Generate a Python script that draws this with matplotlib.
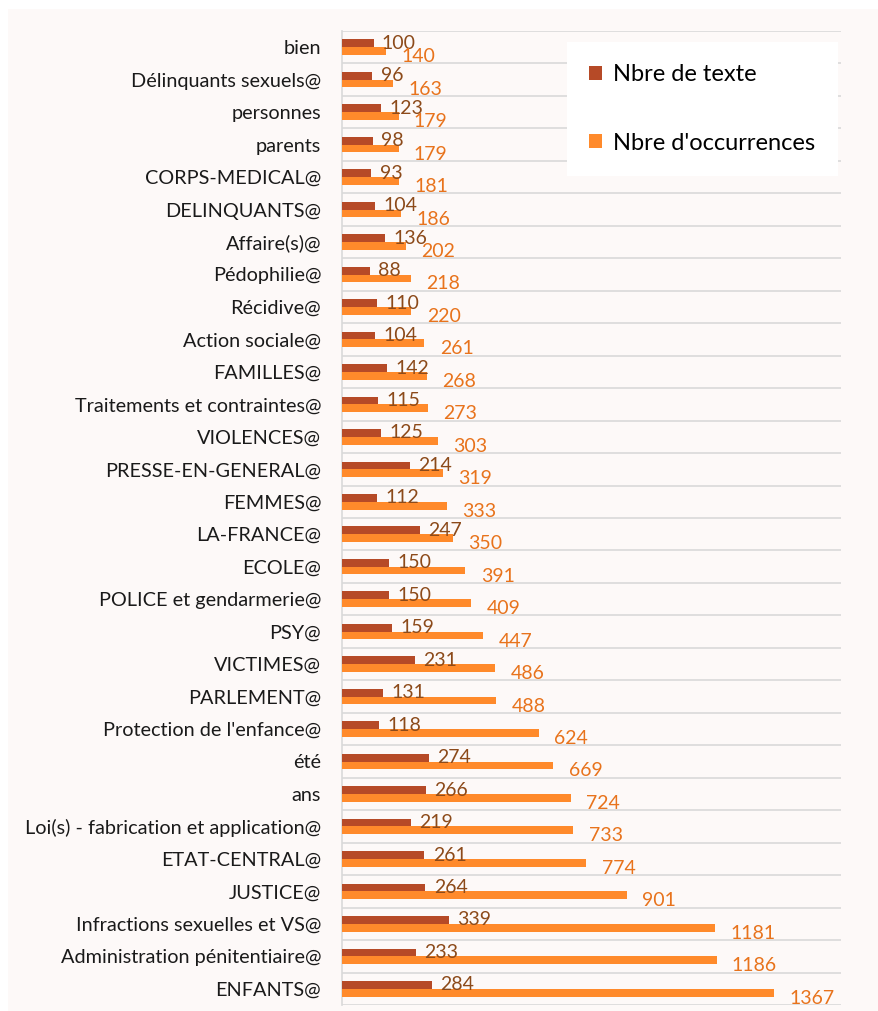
import matplotlib
matplotlib.use("Agg")
import matplotlib.pyplot as plt
import numpy as np
from matplotlib.patches import Rectangle

plt.rcParams['font.family'] = ['Lato', 'DejaVu Sans']

# top to bottom as in the picture
categories = ["bien", "Délinquants sexuels@", "personnes", "parents", "CORPS-MEDICAL@",
              "DELINQUANTS@", "Affaire(s)@", "Pédophilie@", "Récidive@", "Action sociale@",
              "FAMILLES@", "Traitements et contraintes@", "VIOLENCES@", "PRESSE-EN-GENERAL@",
              "FEMMES@", "LA-FRANCE@", "ECOLE@", "POLICE et gendarmerie@", "PSY@", "VICTIMES@",
              "PARLEMENT@", "Protection de l'enfance@", "été", "ans",
              "Loi(s) - fabrication et application@", "ETAT-CENTRAL@", "JUSTICE@",
              "Infractions sexuelles et VS@", "Administration pénitentiaire@", "ENFANTS@"]
nb_textes = [100, 96, 123, 98, 93, 104, 136, 88, 110, 104, 142, 115, 125, 214, 112, 247,
             150, 150, 159, 231, 131, 118, 274, 266, 219, 261, 264, 339, 233, 284]
nb_occ = [140, 163, 179, 179, 181, 186, 202, 218, 220, 261, 268, 273, 303, 319, 333, 350,
          391, 409, 447, 486, 488, 624, 669, 724, 733, 774, 901, 1181, 1186, 1367]

c_dark = "#B64A27"
c_orange = "#FF8A2B"
c_dark_lab = "#8C4A1A"
c_orange_lab = "#E8731C"
bg = "#FDF9F8"

fig = plt.figure(figsize=(8.79, 10.11), dpi=100)
fig.patch.set_facecolor("white")
fig.patches.append(Rectangle((8 / 879, 0), 1, 1 - 9 / 1011, transform=fig.transFigure,
                             facecolor=bg, edgecolor="none", zorder=-10))

ax = fig.add_axes([342 / 879, 6 / 1011, (841 - 342) / 879, (1005 - 31) / 1011])
ax.set_facecolor(bg)

n = len(categories)
y = np.arange(n)[::-1]
h = 0.24

b1 = ax.barh(y + h / 2, nb_textes, height=h, color=c_dark, label="Nbre de texte", zorder=3)
b2 = ax.barh(y - h / 2, nb_occ, height=h, color=c_orange, label="Nbre d'occurrences", zorder=3)

for yy, v in zip(y, nb_textes):
    ax.annotate(str(v), (v, yy + h / 2), xytext=(6, 0), textcoords="offset points",
                va="center", ha="left", color=c_dark_lab, fontsize=14, zorder=4)
for yy, v in zip(y, nb_occ):
    ax.annotate(str(v), (v, yy - h / 2), xytext=(11, -4), textcoords="offset points",
                va="center", ha="left", color=c_orange_lab, fontsize=14, zorder=4)

ax.set_xlim(0, 1580)
ax.set_ylim(-0.5, n - 0.5)
ax.set_yticks(y)
ax.set_yticklabels(categories, fontsize=14.3, color="#1a1a1a")
ax.tick_params(axis="y", length=0, pad=15)
ax.set_xticks([])

for b in np.arange(n + 1) - 0.5:
    ax.axhline(b, color="#D9D9D9", lw=1.2, zorder=1)
for s in ["top", "right", "bottom"]:
    ax.spines[s].set_visible(False)
ax.spines["left"].set_color("#D9D9D9")
ax.spines["left"].set_linewidth(1.2)

leg = fig.legend(handles=[b1, b2], loc="upper left",
                 bbox_to_anchor=(567 / 879, 1 - 42 / 1011), fontsize=17,
                 frameon=True, facecolor="white", edgecolor="none", framealpha=1,
                 handlelength=0.55, handleheight=0.55, handletextpad=0.45,
                 labelspacing=2.0, borderpad=0.95, borderaxespad=0)
leg.get_frame().set_boxstyle("square", pad=0)

fig.savefig("out.png", dpi=100)
